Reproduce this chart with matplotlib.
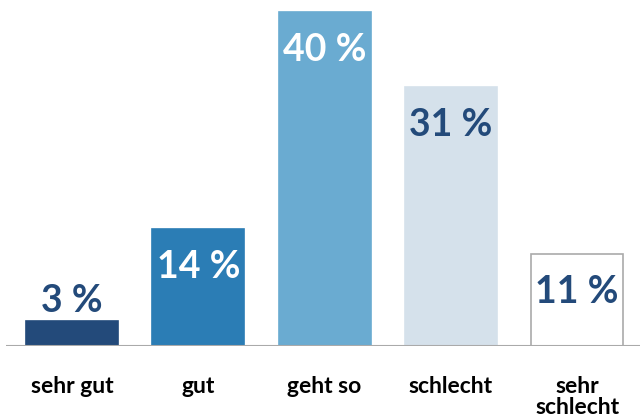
import matplotlib
matplotlib.use("Agg")
import matplotlib.pyplot as plt

kategorien = ["sehr gut", "gut", "geht so", "schlecht", "sehr\nschlecht"]
werte = [3, 14, 40, 31, 11]
farben = ["#234a7a", "#2b7db5", "#6aabd1", "#d5e1eb", "#ffffff"]
rand = ["#234a7a", "#2b7db5", "#6aabd1", "#d5e1eb", "#aaaaaa"]
text_farben = ["#234a7a", "#ffffff", "#ffffff", "#234a7a", "#234a7a"]
innen = [False, True, True, True, True]

px_pro_prozent = 8.35

fig = plt.figure(figsize=(6.4, 4.19), dpi=100)
ax = fig.add_axes([6 / 640, 73 / 419, 634 / 640, 345 / 419])

pos = list(range(len(werte)))
ax.bar(pos, werte, width=0.73, color=farben, edgecolor=rand, linewidth=1.2)

for i, w in enumerate(werte):
    if innen[i]:
        y = w - 38 / px_pro_prozent
    else:
        y = w + 20 / px_pro_prozent
    ax.text(i, y, f"{w} %", ha="center", va="center", color=text_farben[i],
            fontsize=27, fontweight="bold", family="Lato")

for i, k in enumerate(kategorien):
    ax.text(i, -30 / px_pro_prozent, k, ha="center", va="top", color="black",
            fontsize=16.5, fontweight="bold", family="Lato", linespacing=1.0)

ax.set_xlim(-66 / 126.3, 568 / 126.3)
ax.set_ylim(0, 345 / px_pro_prozent)
ax.axhline(0, color="#aaaaaa", linewidth=1.5, zorder=3)
ax.axis("off")

fig.savefig("out.png", dpi=100)
